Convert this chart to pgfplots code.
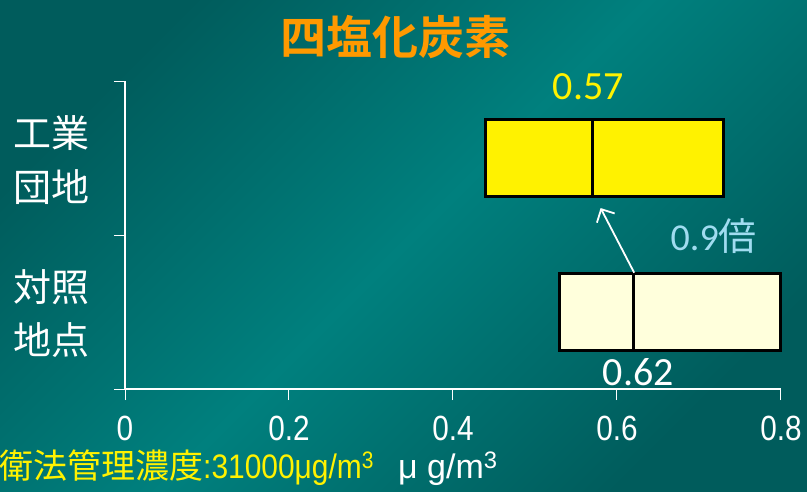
\documentclass[border=0pt]{standalone}
\usepackage{pgfplots}
\pgfplotsset{compat=1.18}
\usepackage{fontspec}
\usetikzlibrary{arrows.meta}
\setmainfont{Liberation Sans}
\newfontfamily\jp[BoldFont={Noto Sans CJK JP Bold}]{Noto Sans CJK JP}
\newfontfamily\carl{Carlito}
\definecolor{bgdark}{RGB}{0,92,92}
\definecolor{bgmid}{RGB}{0,128,126}
\definecolor{ttl}{RGB}{255,153,0}
\definecolor{cream}{RGB}{255,255,220}
\definecolor{lblue}{RGB}{160,220,240}
\begin{document}
\begin{tikzpicture}[x=1pt,y=1pt]
\shade[top color=bgdark, bottom color=bgdark, middle color=bgmid, shading angle=45] (0,0) rectangle (807,491);
\useasboundingbox (0,0) rectangle (807,491);
% title
\node[text=ttl, font=\jp\bfseries\fontsize{46}{50}\selectfont] at (395,454) {四塩化炭素};
% category labels
\node[text=white, font=\jp\fontsize{38}{40}\selectfont] at (51,358) {工業};
\node[text=white, font=\jp\fontsize{38}{40}\selectfont] at (51,304) {団地};
\node[text=white, font=\jp\fontsize{38}{40}\selectfont] at (51,204) {対照};
\node[text=white, font=\jp\fontsize{38}{40}\selectfont] at (51,151) {地点};
\begin{axis}[
  at={(125pt,102pt)}, anchor=south west,
  scale only axis, width=656pt, height=308pt,
  xmin=0, xmax=0.8, ymin=0, ymax=2,
  axis lines=left,
  axis line style={white, line width=1.6pt, -},
  xtick={0,0.2,0.4,0.6,0.8},
  ytick={0,1,2}, yticklabels={},
  tick style={white, line width=1pt},
  tick align=outside,
  major tick length=11pt,
  /pgf/number format/assume math mode=true,
  xticklabel={\scalebox{0.85}[1]{\pgfmathprintnumber{\tick}}},
  xticklabel style={text=white, font=\fontsize{35}{36}\selectfont, yshift=-13pt},
  clip=false,
]
% upper box (工業団地)
\addplot[fill=yellow, draw=black, line width=3pt] coordinates {(0.44,1.25) (0.73,1.25) (0.73,1.75) (0.44,1.75)} -- cycle;
\addplot[black, line width=3pt] coordinates {(0.57,1.25) (0.57,1.75)};
% lower box (対照地点)
\addplot[fill=cream, draw=black, line width=3pt] coordinates {(0.53,0.25) (0.80,0.25) (0.80,0.75) (0.53,0.75)} -- cycle;
\addplot[black, line width=3pt] coordinates {(0.62,0.25) (0.62,0.75)};
% arrow
\addplot[white, line width=1.8pt, -{Straight Barb[length=10pt,width=20pt,line width=1.8pt]}] coordinates {(0.621,0.755) (0.580,1.175)};
\node[text=yellow, font=\carl\fontsize{40}{42}\selectfont] at (axis cs:0.565,1.96) {0.57};
\node[text=white, font=\carl\fontsize{40}{42}\selectfont] at (axis cs:0.626,0.11) {0.62};
\node[text=lblue, font=\carl\fontsize{38}{40}\selectfont] at (axis cs:0.718,0.995) {0.9\jp 倍};
\end{axis}
% bottom notes
\node[anchor=base west, inner sep=0pt, text=yellow, font=\fontsize{34}{36}\selectfont] at (-1,13) {{\jp 衛法管理濃度}\scalebox{0.88}[1]{:31000μg/m\textsuperscript{3}}};
\node[anchor=base west, inner sep=0pt, text=white, font=\fontsize{34}{36}\selectfont] at (398,13) {μ g/m\textsuperscript{3}};
\end{tikzpicture}
\end{document}
